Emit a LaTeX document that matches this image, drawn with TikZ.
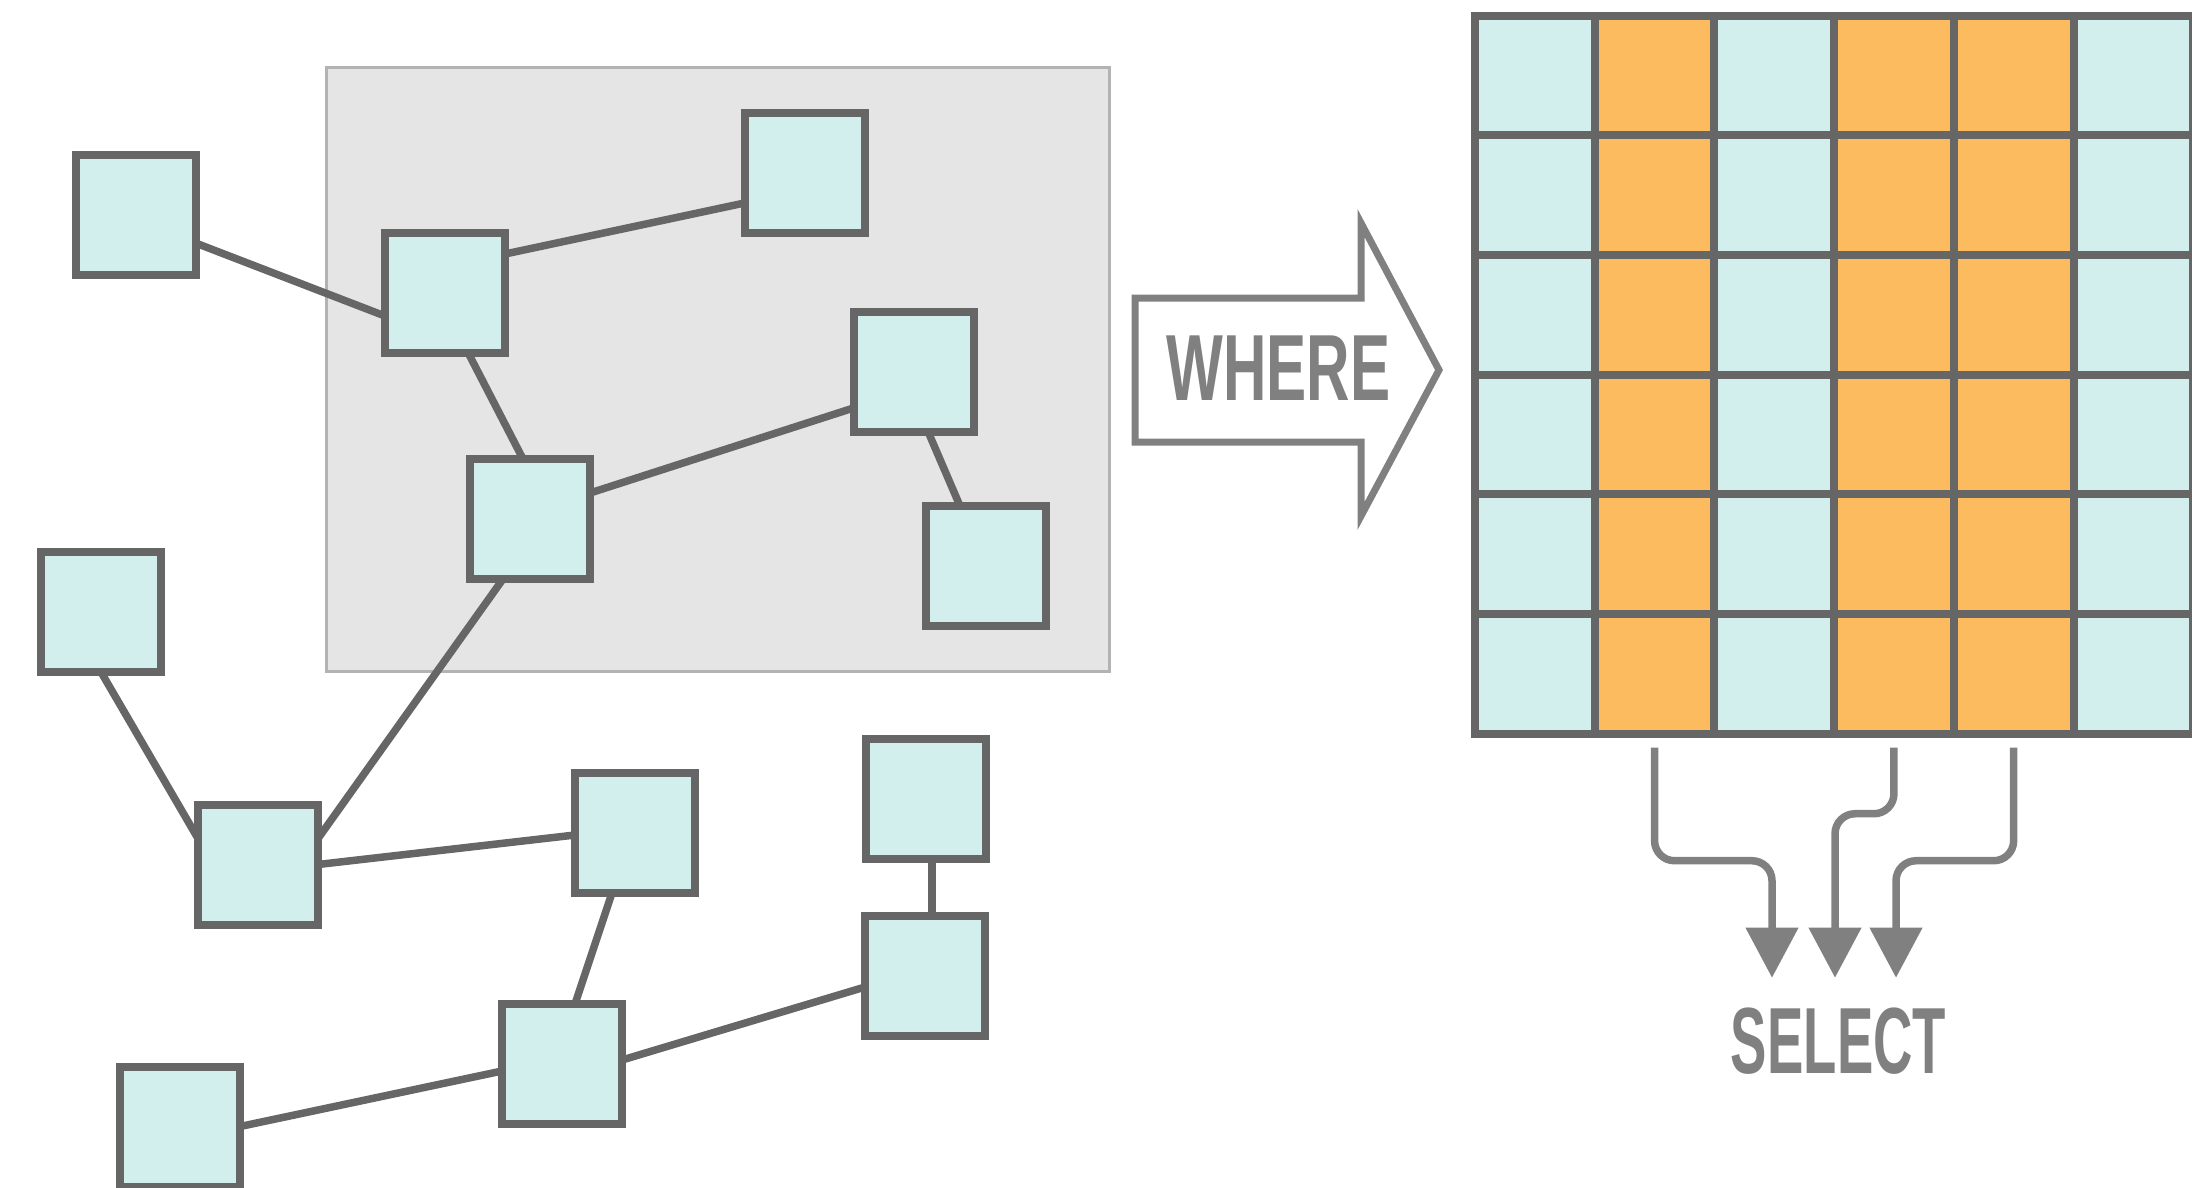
\documentclass[tikz,border=0pt]{standalone}
\usepackage{fontspec}
\setmainfont{Liberation Sans}
\usetikzlibrary{arrows.meta,calc,backgrounds}
\definecolor{cellblue}{HTML}{D2EFEE}
\definecolor{cellorange}{HTML}{FDBB5F}
\definecolor{edgegray}{HTML}{666666}
\definecolor{boxgray}{HTML}{E5E5E5}
\definecolor{boxline}{HTML}{B3B3B3}
\definecolor{arrowgray}{HTML}{808080}
\begin{document}
\begin{tikzpicture}[x=1pt,y=-1pt,
  gnode/.style={draw=edgegray, fill=cellblue, line width=8pt, minimum width=120pt, minimum height=120pt, inner sep=0pt, outer sep=0pt},
  link/.style={draw=edgegray, line width=7.5pt},
  cell/.style={draw=edgegray, line width=8pt, minimum width=119.7pt, minimum height=119.7pt, inner sep=0pt, outer sep=0pt},
  sel/.style={draw=arrowgray, line width=7.5pt, rounded corners=20pt, -{Triangle[width=51pt,length=50pt]}},
  wordlabel/.style={text=arrowgray, inner sep=0pt, outer sep=0pt, font=\fontsize{94}{100}\selectfont\bfseries}]
\useasboundingbox (0,0) rectangle (2192,1187);

% graph nodes
\node[gnode] (A) at (135.5,215) {};
\node[gnode] (B) at (445,292.5) {};
\node[gnode] (C) at (804.5,173) {};
\node[gnode] (D) at (913.5,371.5) {};
\node[gnode] (E) at (530,519) {};
\node[gnode] (F) at (985.5,566) {};
\node[gnode] (G) at (101,612) {};
\node[gnode] (H) at (258,864.5) {};
\node[gnode] (I) at (635,833) {};
\node[gnode] (J) at (926,799) {};
\node[gnode] (K) at (925,976) {};
\node[gnode] (L) at (562,1064) {};
\node[gnode] (M) at (180,1126.5) {};

\begin{pgfonlayer}{background}
  \draw[fill=boxgray, draw=boxline, line width=3pt] (326,67) rectangle (1109,671);
  \draw[link] ([shift={(0,28)}]A.east) -- ([shift={(0,23.5)}]B.west);
  \draw[link] ([shift={(0,-38.5)}]B.east) -- ([shift={(0,30)}]C.west);
  \draw[link] ([shift={(23,0)}]B.south) -- ([shift={(-7,0)}]E.north);
  \draw[link] ([shift={(0,-26)}]E.east) -- ([shift={(0,36.5)}]D.west);
  \draw[link] ([shift={(14.5,0)}]D.south) -- ([shift={(-25.5,0)}]F.north);
  \draw[link] ([shift={(-27,0)}]E.south) -- ([shift={(0,-26)}]H.east);
  \draw[link] (G.south) -- ([shift={(0,-26)}]H.west);
  \draw[link] (H.east) -- ([shift={(0,2)}]I.west);
  \draw[link] ([shift={(-23,0)}]I.south) -- ([shift={(13,0)}]L.north);
  \draw[link] ([shift={(6,0)}]J.south) -- ([shift={(7,0)}]K.north);
  \draw[link] ([shift={(0,11)}]K.west) -- ([shift={(0,-4)}]L.east);
  \draw[link] ([shift={(0,7)}]L.west) -- (M.east);
\end{pgfonlayer}

% WHERE arrow
\draw[draw=arrowgray, line width=7pt, miter limit=10]
  (1135,298) -- (1361,298) -- (1361,223) -- (1439,370) -- (1361,516) -- (1361,442) -- (1135,442) -- cycle;
\node[wordlabel] (where) at (1278.5,368) {\scalebox{0.64}[1]{WHERE}};

% result grid
\foreach \r in {1,...,6}{
  \foreach \c/\col in {1/cellblue,2/cellorange,3/cellblue,4/cellorange,5/cellorange,6/cellblue}{
    \node[cell, fill=\col] (c-\r-\c) at ({1475+(\c-0.5)*119.7},{15.5+(\r-0.5)*119.7}) {};
  }
}

% SELECT
\node[wordlabel] (select) at (1838.5,1041) {\scalebox{0.58}[1]{SELECT}};
\coordinate (t1) at ([shift={(-66.5,-30)}]select.north);
\coordinate (t2) at ([shift={(-3.5,-30)}]select.north);
\coordinate (t3) at ([shift={(57.5,-30)}]select.north);
\draw[sel] ([shift={(0,14)}]c-6-2.south) |- ([shift={(0,-117)}]t1) -- (t1);
\draw[sel] ([shift={(0,14)}]c-6-4.south) |- ([shift={(0,-164)}]t2) -- (t2);
\draw[sel] ([shift={(0,14)}]c-6-5.south) |- ([shift={(0,-117)}]t3) -- (t3);
\end{tikzpicture}
\end{document}
